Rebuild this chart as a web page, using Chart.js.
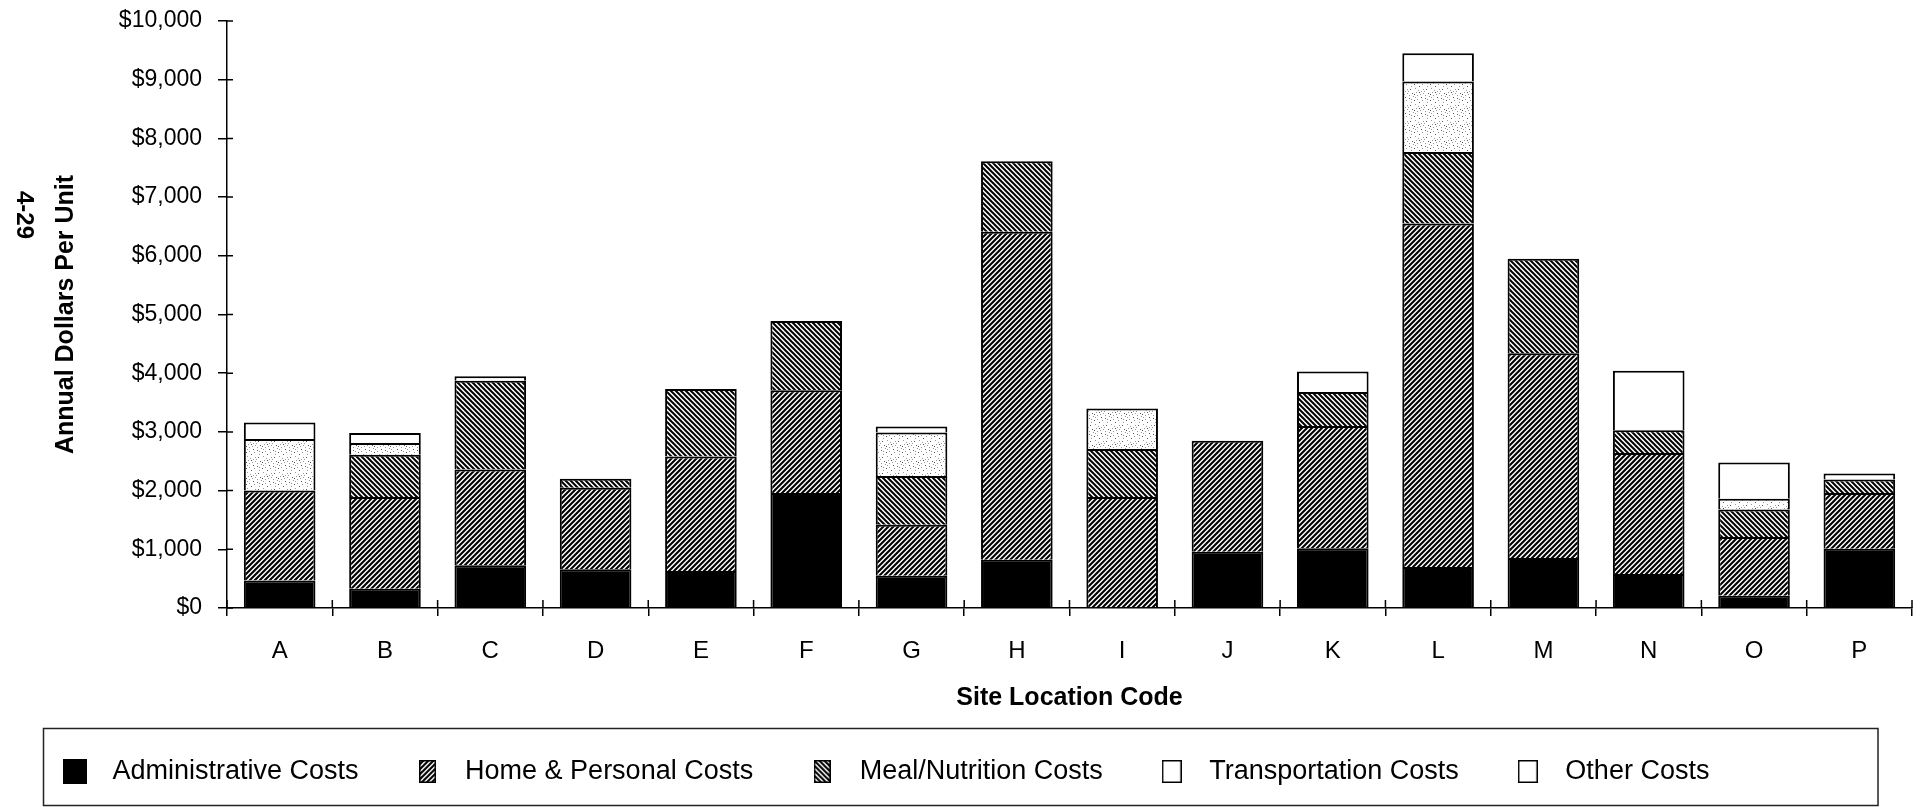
<!DOCTYPE html>
<html>
<head>
<meta charset="utf-8">
<title>Annual Dollars Per Unit by Site Location Code</title>
<script src="https://cdn.jsdelivr.net/npm/chart.js@4/dist/chart.umd.min.js"></script>
<style>
  html, body { margin: 0; padding: 0; background: #ffffff; }
  canvas { display: block; }
</style>
</head>
<body>
<canvas id="costChart" width="1928" height="807"></canvas>
<script>
// Site location codes along the x axis
const siteCodes = ['A', 'B', 'C', 'D', 'E', 'F', 'G', 'H', 'I', 'J', 'K', 'L', 'M', 'N', 'O', 'P'];

// Annual dollars per unit, one stacked segment per cost type
const adminCosts     = [ 470,  330,  730,  660,  630, 1960,  550,  820,    0,  960, 1020,  700,  850,  580,  210, 1010];
const homeCosts      = [1530, 1560, 1630, 1390, 1950, 1750,  870, 5590, 1890, 1890, 2080, 5850, 3490, 2060, 1000,  950];
const mealCosts      = [   0,  720, 1510,  150, 1150, 1180,  830, 1200,  820,    0,  580, 1220, 1610,  390,  470,  230];
const transportCosts = [ 880,  200,    0,    0,    0,    0,  740,    0,  690,    0,    0, 1200,    0,    0,  180,    0];
const otherCosts     = [ 280,  170,   80,    0,    0,    0,  100,    0,    0,    0,  350,  480,    0, 1010,  620,  100];

// Series names shown in the legend
const seriesNames = ['Administrative Costs', 'Home & Personal Costs', 'Meal/Nutrition Costs', 'Transportation Costs', 'Other Costs'];

// Value axis range and tick step
const yMin = 0;
const yMax = 10000;
const yStep = 1000;

const FONT = '"Liberation Sans", Arial, Helvetica, sans-serif';
Chart.defaults.font.family = FONT;
Chart.defaults.color = '#000';

// ---- fill patterns -------------------------------------------------------
function hatchPattern(forward, size, width) {
  const c = document.createElement('canvas');
  c.width = size; c.height = size;
  const g = c.getContext('2d');
  g.fillStyle = '#fff';
  g.fillRect(0, 0, size, size);
  g.strokeStyle = '#000';
  g.lineWidth = width;
  g.beginPath();
  if (forward) {            // "/" lines
    g.moveTo(-1, size + 1); g.lineTo(size + 1, -1);
    g.moveTo(-1, 1);        g.lineTo(1, -1);
    g.moveTo(size - 1, size + 1); g.lineTo(size + 1, size - 1);
  } else {                  // "\" lines
    g.moveTo(-1, -1); g.lineTo(size + 1, size + 1);
    g.moveTo(size - 1, -1); g.lineTo(size + 1, 1);
    g.moveTo(-1, size - 1); g.lineTo(1, size + 1);
  }
  g.stroke();
  return c;
}

function stippleTile() {
  const c = document.createElement('canvas');
  c.width = 16; c.height = 16;
  const g = c.getContext('2d');
  g.fillStyle = '#fff';
  g.fillRect(0, 0, 16, 16);
  const dots = [[1,2],[5,0],[9,3],[13,1],[3,6],[7,8],[11,6],[15,9],[0,11],[4,13],[8,12],[12,14],
                [2,9],[10,10],[14,4],[6,4],[9,15],[13,11],[6,14],[15,13],[3,3],[11,12],[7,1],[1,15]];
  dots.forEach(([x, y], i) => {
    g.fillStyle = i % 3 === 0 ? '#555' : '#999';
    g.fillRect(x, y, 1, 1);
  });
  return c;
}

const ctx = document.getElementById('costChart').getContext('2d');
const homeTile = hatchPattern(true, 5, 2.1);
const mealTile = hatchPattern(false, 5, 2.0);
const stipple = stippleTile();
const homeFill = ctx.createPattern(homeTile, 'repeat');
const mealFill = ctx.createPattern(mealTile, 'repeat');
const transportFill = ctx.createPattern(stipple, 'repeat');

// ---- legend markers ------------------------------------------------------
function marker(w, h, fill) {
  const c = document.createElement('canvas');
  c.width = w; c.height = h;
  const g = c.getContext('2d');
  if (fill === 'black') {
    g.fillStyle = '#000';
    g.fillRect(0, 0, w, h);
  } else {
    g.fillStyle = fill === 'white' ? '#fff' : g.createPattern(fill, 'repeat');
    g.fillRect(0, 0, w, h);
    g.strokeStyle = '#000';
    g.lineWidth = 1.5;
    g.strokeRect(0.75, 0.75, w - 1.5, h - 1.5);
  }
  return c;
}
const legendMarkers = [
  marker(24, 25, 'black'),
  marker(17, 23, homeTile),
  marker(17, 23, mealTile),
  marker(20, 23, 'white'),
  marker(20, 23, 'white')
];

// ---- extra drawing: crossing axis ticks, legend frame, page number ----
const chartDecor = {
  id: 'chartDecor',
  afterDraw(chart) {
    const {ctx, chartArea, scales: {x, y}} = chart;
    ctx.save();
    ctx.strokeStyle = '#000';
    ctx.lineWidth = 1.5;
    ctx.beginPath();
    // inner halves of the value-axis ticks
    y.ticks.forEach(t => {
      const py = y.getPixelForValue(t.value);
      ctx.moveTo(chartArea.left, py);
      ctx.lineTo(chartArea.left + 6, py);
    });
    // inner halves of the category boundary ticks
    for (let i = 0; i <= siteCodes.length; i++) {
      const px = x.getPixelForValue(i - 0.5);
      ctx.moveTo(px, chartArea.bottom);
      ctx.lineTo(px, chartArea.bottom - 8);
    }
    ctx.stroke();

    // frame around the legend
    const lg = chart.legend;
    if (lg && lg.legendHitBoxes && lg.legendHitBoxes.length) {
      const hb = lg.legendHitBoxes[0];
      const cy = hb.top + hb.height / 2;
      ctx.lineWidth = 1.5;
      ctx.strokeStyle = '#222';
      ctx.strokeRect(43.5, cy - 43, 1878 - 43.5, 77);
    }

    // page number
    ctx.fillStyle = '#000';
    ctx.font = 'bold 24px ' + FONT;
    ctx.textAlign = 'center';
    ctx.textBaseline = 'middle';
    ctx.translate(24, 215);
    ctx.rotate(Math.PI / 2);
    ctx.fillText('4-29', 0, 0);
    ctx.restore();
  }
};

const barStyle = {
  borderColor: '#000',
  borderWidth: 2,
  barPercentage: 0.68,
  categoryPercentage: 1.0
};
const seriesValues = [adminCosts, homeCosts, mealCosts, transportCosts, otherCosts];
const seriesFills = ['#000', homeFill, mealFill, transportFill, '#fff'];

new Chart(ctx, {
  type: 'bar',
  data: {
    labels: siteCodes,
    datasets: seriesNames.map((name, i) => Object.assign({
      label: name,
      data: seriesValues[i].map(v => (v === 0 ? null : v)),
      backgroundColor: seriesFills[i]
    }, barStyle))
  },
  options: {
    responsive: false,
    animation: false,
    layout: { autoPadding: false, padding: { left: 6, right: 16, top: 21, bottom: 12 } },
    scales: {
      x: {
        stacked: true,
        offset: true,
        afterFit(scale) {
          scale.height = 105;
          scale.paddingLeft = 0; scale.paddingRight = 0;
          scale.paddingTop = 0; scale.paddingBottom = 0;
        },
        grid: {
          display: true,
          offset: true,
          drawOnChartArea: false,
          drawTicks: true,
          tickLength: 8,
          color: '#000',
          lineWidth: 1.5
        },
        border: { display: true, color: '#000', width: 1.5 },
        ticks: {
          color: '#000',
          font: { size: 24, family: FONT },
          padding: 21,
          maxRotation: 0
        },
        title: {
          display: true,
          text: 'Site Location Code',
          color: '#000',
          font: { size: 25, weight: 'bold', family: FONT, lineHeight: 1 },
          padding: { top: 0, bottom: 2 }
        }
      },
      y: {
        stacked: true,
        min: yMin,
        max: yMax,
        afterFit(scale) {
          scale.width = 221;
          scale.paddingTop = 0; scale.paddingBottom = 0;
          scale.paddingLeft = 0; scale.paddingRight = 0;
        },
        grid: {
          display: true,
          drawOnChartArea: false,
          drawTicks: true,
          tickLength: 9,
          color: '#000',
          lineWidth: 1.5
        },
        border: { display: true, color: '#000', width: 1.5 },
        ticks: {
          stepSize: yStep,
          color: '#000',
          font: { size: 23, family: FONT },
          padding: 16,
          callback: v => '$' + Number(v).toLocaleString('en-US')
        },
        title: {
          display: true,
          text: 'Annual Dollars Per Unit',
          color: '#000',
          font: { size: 25, weight: 'bold', family: FONT, lineHeight: 1 },
          padding: { top: 48, bottom: 0 }
        }
      }
    },
    plugins: {
      tooltip: { enabled: false },
      legend: {
        display: true,
        position: 'bottom',
        align: 'start',
        labels: {
          usePointStyle: true,
          pointStyleWidth: 48,
          padding: 45,
          color: '#000',
          font: { size: 27, family: FONT },
          generateLabels: chart => chart.data.datasets.map((ds, i) => ({
            text: ds.label,
            pointStyle: legendMarkers[i],
            fillStyle: '#000',
            strokeStyle: '#000',
            lineWidth: 0,
            hidden: false,
            datasetIndex: i,
            fontColor: '#000'
          }))
        }
      }
    }
  },
  plugins: [chartDecor]
});
</script>
</body>
</html>
